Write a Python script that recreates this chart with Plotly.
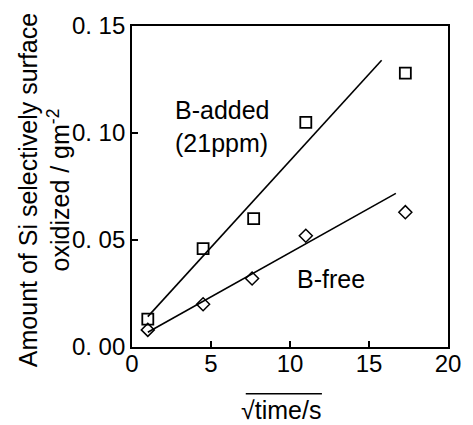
import plotly.graph_objects as go

# Data
added_x = [1.0, 4.5, 7.7, 11.0, 17.3]
added_y = [0.013, 0.046, 0.060, 0.105, 0.128]
free_x = [1.0, 4.5, 7.6, 11.0, 17.3]
free_y = [0.008, 0.020, 0.032, 0.052, 0.063]

fit_added_x = [1.0, 15.8]
fit_added_y = [0.0142, 0.134]
fit_free_x = [1.0, 16.7]
fit_free_y = [0.0069, 0.0718]

x_ticks = [0, 5, 10, 15, 20]
y_ticks = [0.0, 0.05, 0.10, 0.15]
y_ticktext = ["0. 00", "0. 05", "0. 10", "0. 15"]

FONT = "Liberation Sans, Arial, sans-serif"

fig = go.Figure()
fig.add_trace(go.Scatter(x=fit_added_x, y=fit_added_y, mode="lines",
                         line=dict(color="black", width=1.6), showlegend=False, hoverinfo="skip"))
fig.add_trace(go.Scatter(x=fit_free_x, y=fit_free_y, mode="lines",
                         line=dict(color="black", width=1.6), showlegend=False, hoverinfo="skip"))
fig.add_trace(go.Scatter(x=added_x, y=added_y, mode="markers", name="B-added",
                         marker=dict(symbol="square-open", size=11, color="black",
                                     line=dict(width=1.8, color="black")),
                         showlegend=False))
fig.add_trace(go.Scatter(x=free_x, y=free_y, mode="markers", name="B-free",
                         marker=dict(symbol="diamond-open", size=10, color="black",
                                     line=dict(width=1.5, color="black")),
                         showlegend=False))

fig.add_annotation(x=5.75, y=0.103, text="B-added<br>(21ppm)", showarrow=False,
                   xref="x", yref="y", font=dict(family=FONT, size=25, color="black"),
                   align="left")
fig.add_annotation(x=12.6, y=0.032, text="B-free", showarrow=False,
                   xref="x", yref="y", font=dict(family=FONT, size=25, color="black"))

# axis titles
fig.add_annotation(x=-0.277, y=0.49, xref="paper", yref="paper", textangle=-90,
                   text="Amount of Si selectively surface<br>oxidized / gm<sup>-2</sup>",
                   showarrow=False, font=dict(family=FONT, size=25, color="black"),
                   xanchor="center", yanchor="middle")
fig.add_annotation(x=0.47, y=-0.195, xref="paper", yref="paper",
                   text="√time/s", showarrow=False,
                   font=dict(family=FONT, size=25, color="black"),
                   xanchor="center", yanchor="middle")
fig.add_shape(type="line", xref="paper", yref="paper", x0=0.36, x1=0.601,
              y0=-0.146, y1=-0.146, line=dict(color="black", width=1.5))

fig.update_xaxes(range=[0, 20], tickvals=x_ticks, ticks="inside", ticklen=6,
                 tickwidth=1.5, tickcolor="black", showline=True, linecolor="black",
                 linewidth=1.8, mirror=True, showgrid=False, zeroline=False,
                 ticklabelstandoff=-6,
                 tickfont=dict(family=FONT, size=24, color="black"))
fig.update_yaxes(range=[0, 0.15], tickvals=y_ticks, ticktext=y_ticktext, ticks="inside",
                 ticklen=6, tickwidth=1.5, tickcolor="black", showline=True,
                 linecolor="black", linewidth=1.8, mirror=True, showgrid=False,
                 zeroline=False, tickfont=dict(family=FONT, size=24, color="black"))

fig.update_layout(width=473, height=425, margin=dict(l=132, r=20, t=25, b=78),
                  plot_bgcolor="white", paper_bgcolor="white")

fig.write_html("out.html", config={"displayModeBar": False},
               post_script="document.body.style.margin='0';")
